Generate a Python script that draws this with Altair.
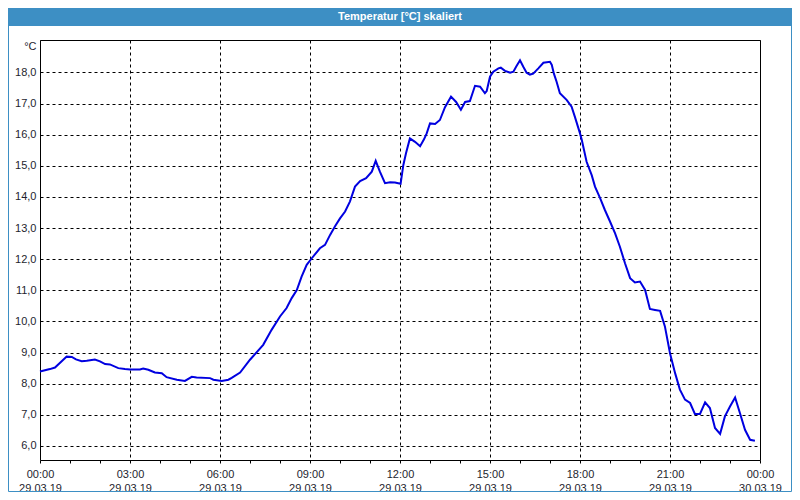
import altair as alt
import pandas as pd

# time of day in hours (29.03.19 00:00 = 0) and temperature in °C
hours = [0.00, 0.33, 0.50, 0.89, 1.06, 1.20, 1.39, 1.56, 1.83, 2.00, 2.17, 2.33, 2.61, 2.83,
         3.00, 3.33, 3.44, 3.61, 3.83, 4.06, 4.22, 4.56, 4.83, 5.06, 5.22, 5.67, 5.78, 6.06,
         6.28, 6.39, 6.67, 7.00, 7.44, 7.72, 8.00, 8.22, 8.39, 8.56, 8.72, 8.89, 9.06, 9.33,
         9.50, 9.67, 9.83, 10.00, 10.17, 10.33, 10.50, 10.67, 10.87, 11.06, 11.19, 11.33,
         11.50, 11.67, 11.83, 12.02, 12.11, 12.20, 12.33, 12.50, 12.67, 12.80, 12.89, 13.00,
         13.17, 13.33, 13.50, 13.70, 13.87, 14.03, 14.17, 14.33, 14.50, 14.67, 14.83, 14.89,
         15.00, 15.11, 15.28, 15.36, 15.50, 15.67, 15.78, 15.87, 16.00, 16.11, 16.22, 16.33,
         16.44, 16.61, 16.78, 17.00, 17.06, 17.13, 17.22, 17.33, 17.56, 17.72, 17.83, 18.00,
         18.06, 18.22, 18.39, 18.50, 18.67, 18.83, 19.00, 19.17, 19.33, 19.50, 19.67, 19.83,
         20.00, 20.17, 20.33, 20.50, 20.67, 20.83, 21.00, 21.17, 21.33, 21.50, 21.67, 21.83,
         22.00, 22.17, 22.33, 22.50, 22.67, 22.83, 23.00, 23.17, 23.33, 23.50, 23.67, 23.83]
temps = [8.39, 8.47, 8.52, 8.87, 8.86, 8.78, 8.72, 8.74, 8.78, 8.72, 8.63, 8.62, 8.50, 8.47,
         8.46, 8.46, 8.49, 8.45, 8.36, 8.34, 8.21, 8.13, 8.09, 8.22, 8.20, 8.18, 8.13, 8.09,
         8.13, 8.19, 8.36, 8.77, 9.25, 9.73, 10.16, 10.43, 10.75, 11.01, 11.44, 11.82, 12.03, 12.35,
         12.46, 12.78, 13.05, 13.31, 13.53, 13.85, 14.33, 14.51, 14.60, 14.81, 15.16, 14.81,
         14.44, 14.47, 14.46, 14.42, 15.02, 15.40, 15.88, 15.77, 15.63, 15.85, 16.04, 16.36,
         16.34, 16.47, 16.88, 17.22, 17.05, 16.80, 17.05, 17.08, 17.57, 17.54, 17.33, 17.40,
         17.86, 18.02, 18.13, 18.15, 18.05, 17.99, 18.02, 18.18, 18.39, 18.18, 17.99, 17.93,
         17.96, 18.13, 18.31, 18.34, 18.24, 17.96, 17.70, 17.33, 17.11, 16.90, 16.57, 16.04,
         15.83, 15.13, 14.70, 14.33, 13.96, 13.58, 13.21, 12.83, 12.40, 11.87, 11.39, 11.25,
         11.28, 11.01, 10.40, 10.37, 10.34, 9.84, 8.98, 8.34, 7.81, 7.49, 7.38, 7.03,
         7.03, 7.40, 7.22, 6.58, 6.39, 6.95, 7.27, 7.56, 7.06, 6.52, 6.20, 6.17]

x_ticks = list(range(0, 25))
y_ticks = list(range(6, 19))
title_text = "Temperatur [°C] skaliert"
unit_text = "°C"

df = pd.DataFrame({"h": hours, "t": temps})

FONT = "Liberation Sans"
BLUE = "#3d8fc4"
LABEL = "#1e1e2e"

x_axis = alt.Axis(
    values=x_ticks,
    labelExpr="datum.value % 3 == 0 ? [format(datum.value % 24, '02d') + ':00', datum.value == 24 ? '30.03.19' : '29.03.19'] : ''",
    grid=True, gridColor="black", gridDash=[3, 3], gridWidth=1,
    gridOpacity={"condition": {"test": "datum.value % 3 == 0", "value": 1}, "value": 0},
    ticks=True, tickSize=3, tickColor="black", domain=False,
    labelFlush=False, labelOverlap=False, labelPadding=5, labelLineHeight=14,
    labelFont=FONT, labelFontSize=11, labelColor=LABEL, title=None,
)
y_axis = alt.Axis(
    values=y_ticks,
    labelExpr="replace(format(datum.value, '.1f'), '.', ',')",
    grid=True, gridColor="black", gridDash=[3, 3], gridWidth=1,
    ticks=False, domain=False, labelPadding=4,
    labelFont=FONT, labelFontSize=11, labelColor=LABEL,
    title=unit_text, titleAngle=0, titleAlign="right", titleBaseline="middle",
    titleX=-4, titleY=6, titleFont=FONT, titleFontSize=11, titleFontWeight="normal",
    titleColor=LABEL,
)

line = alt.Chart(df).mark_line(color="#0000e0", strokeWidth=2).encode(
    x=alt.X("h:Q", scale=alt.Scale(domain=[0, 24], nice=False, zero=False), axis=x_axis),
    y=alt.Y("t:Q", scale=alt.Scale(domain=[5.55, 19.04], nice=False, zero=False), axis=y_axis),
)

one = alt.Data(values=[{"k": 1}])
border = alt.Chart(one).mark_rect(fillOpacity=0, stroke=BLUE, strokeWidth=1).encode(
    x=alt.value(-31.5), x2=alt.value(751.5), y=alt.value(-31.5), y2=alt.value(451.5)
)
bar = alt.Chart(one).mark_rect(color=BLUE).encode(
    x=alt.value(-32), x2=alt.value(752), y=alt.value(-32), y2=alt.value(-14)
)
txt = alt.Chart(one).mark_text(
    text=title_text, font=FONT, fontSize=11, fontWeight="bold", color="white",
    align="center", baseline="middle"
).encode(x=alt.value(360), y=alt.value(-23))

chart = alt.layer(border, bar, txt, line).properties(
    width=720, height=420,
    padding={"left": 32, "top": 32, "right": 32, "bottom": 32},
    autosize=alt.AutoSizeParams(type="none"),
    background="white",
).configure_view(stroke="black", strokeWidth=1)

chart.save("out.html", embed_options={"renderer": "svg", "actions": False})
